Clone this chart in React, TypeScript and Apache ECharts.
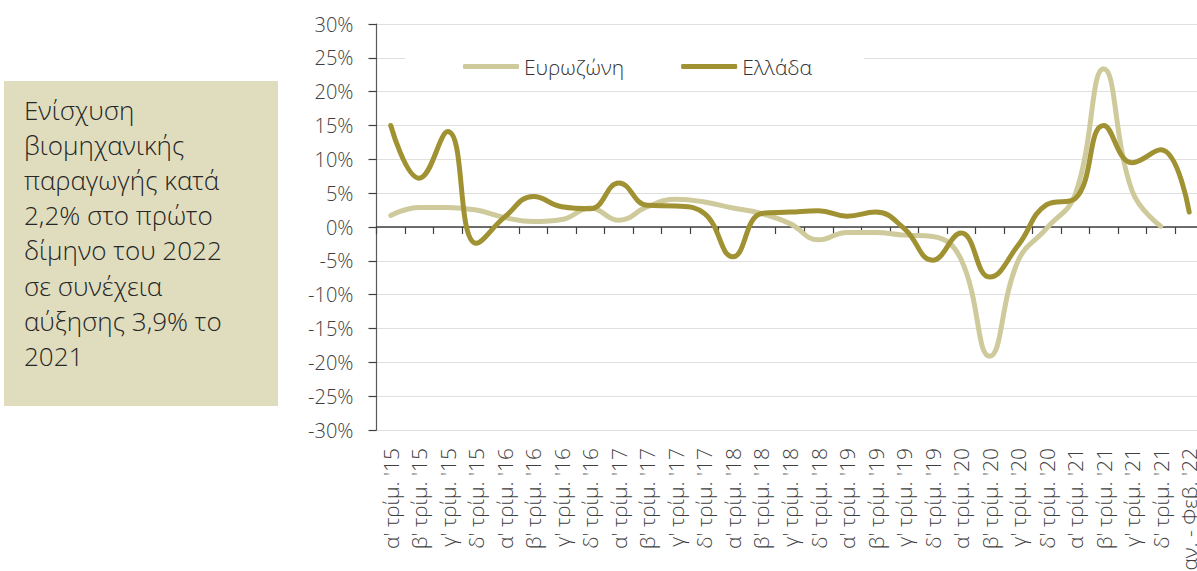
import React, { useEffect, useRef } from 'react';
import * as echarts from 'echarts';

const categories = [
  "α' τρίμ. '15", "β' τρίμ. '15", "γ' τρίμ. '15", "δ' τρίμ. '15",
  "α' τρίμ. '16", "β' τρίμ. '16", "γ' τρίμ. '16", "δ' τρίμ. '16",
  "α' τρίμ. '17", "β' τρίμ. '17", "γ' τρίμ. '17", "δ' τρίμ. '17",
  "α' τρίμ. '18", "β' τρίμ. '18", "γ' τρίμ. '18", "δ' τρίμ. '18",
  "α' τρίμ. '19", "β' τρίμ. '19", "γ' τρίμ. '19", "δ' τρίμ. '19",
  "α' τρίμ. '20", "β' τρίμ. '20", "γ' τρίμ. '20", "δ' τρίμ. '20",
  "α' τρίμ. '21", "β' τρίμ. '21", "γ' τρίμ. '21", "δ' τρίμ. '21",
  "Ιαν. - Φεβ. '22",
];

const eurozone = [
  1.7, 2.9, 2.9, 2.5, 1.4, 0.8, 1.1, 2.8, 1.0, 3.0, 4.1, 3.7, 2.8, 2.0,
  0.5, -1.9, -0.8, -0.8, -1.2, -1.4, -4.8, -19.1, -5.0, -0.2, 4.8, 23.4,
  5.3, 0.1, null,
];

const greece = [
  15.0, 7.2, 14.1, -2.4, 1.5, 4.5, 3.0, 2.7, 6.5, 3.2, 3.1, 2.0, -4.4, 2.0,
  2.2, 2.4, 1.6, 2.2, -0.2, -4.9, -0.9, -7.4, -2.7, 3.3, 4.2, 15.0, 9.5,
  11.4, 2.2,
];

const seriesNames = ['Ευρωζώνη', 'Ελλάδα'];

const noteLines = [
  'Ενίσχυση',
  'βιομηχανικής',
  'παραγωγής κατά',
  '2,2% στο πρώτο',
  'δίμηνο του 2022',
  'σε συνέχεια',
  'αύξησης 3,9% το',
  '2021',
];

const FONT = "'Open Sans', 'DejaVu Sans', sans-serif";
const LIGHT = '#CFCA9B';
const DARK = '#A09232';

export default function App() {
  const ref = useRef<HTMLDivElement>(null);
  useEffect(() => {
    const chart = echarts.init(ref.current as HTMLDivElement, null, { renderer: 'svg' });
    chart.setOption({
      animation: false,
      backgroundColor: '#ffffff',
      textStyle: { fontFamily: FONT },
      grid: {
        left: 376.5,
        top: 24,
        bottom: 141,
        right: -6.5,
        containLabel: false,
        outerBoundsMode: 'none',
      },
      legend: {
        data: seriesNames,
        left: 405,
        top: 44,
        padding: [12, 52, 12, 58],
        backgroundColor: '#ffffff',
        itemWidth: 56,
        itemHeight: 5,
        itemGap: 57,
        icon: 'roundRect',
        textStyle: { fontSize: 21, color: '#333333', fontWeight: 300, fontFamily: FONT },
      },
      xAxis: [
        {
          type: 'category',
          data: categories,
          position: 'bottom',
          boundaryGap: true,
          axisLine: { show: false, onZero: false },
          axisTick: { show: false },
          axisLabel: {
            rotate: 90,
            interval: 0,
            margin: 18,
            fontSize: 21,
            color: '#404040',
            fontWeight: 300,
            fontFamily: FONT,
          },
        },
        {
          type: 'category',
          data: categories,
          position: 'bottom',
          boundaryGap: true,
          axisLine: { show: true, onZero: true, lineStyle: { color: '#404040', width: 1.5 } },
          axisTick: { show: true, length: 7, interval: 0, lineStyle: { color: '#404040', width: 1.2 } },
          axisLabel: { show: false },
          splitLine: { show: false },
        },
      ],
      yAxis: {
        type: 'value',
        min: -30,
        max: 30,
        interval: 5,
        axisLine: { show: true, lineStyle: { color: '#595959', width: 1.2 } },
        axisTick: { show: true, length: 8, lineStyle: { color: '#404040', width: 1.2 } },
        axisLabel: {
          formatter: '{value}%',
          fontSize: 20,
          margin: 23,
          color: '#404040',
          fontWeight: 300,
          fontFamily: FONT,
        },
        splitLine: { show: true, lineStyle: { color: '#bfbfbf', type: 'dotted', width: 1 } },
      },
      series: [
        {
          name: seriesNames[0],
          type: 'line',
          data: eurozone,
          smooth: 0.45,
          symbol: 'none',
          showSymbol: false,
          connectNulls: false,
          lineStyle: { color: LIGHT, width: 5, cap: 'round', join: 'round' },
          itemStyle: { color: LIGHT },
          z: 2,
        },
        {
          name: seriesNames[1],
          type: 'line',
          data: greece,
          smooth: 0.45,
          symbol: 'none',
          showSymbol: false,
          lineStyle: { color: DARK, width: 5, cap: 'round', join: 'round' },
          itemStyle: { color: DARK },
          z: 3,
        },
      ],
      graphic: [
        {
          type: 'rect',
          left: 4,
          top: 81,
          shape: { width: 274, height: 325 },
          style: { fill: '#E0DDBF' },
          z: 0,
        },
        {
          type: 'text',
          left: 24,
          top: 92,
          style: {
            text: noteLines.join('\n'),
            fontSize: 26,
            lineHeight: 35.2,
            fill: '#262626',
            fontFamily: FONT,
            fontWeight: 300,
          },
          z: 1,
        },
      ],
    });
    return () => chart.dispose();
  }, []);
  return (
    <div
      ref={ref}
      style={{ position: 'fixed', left: 0, top: 0, width: 1197, height: 571 }}
    />
  );
}
